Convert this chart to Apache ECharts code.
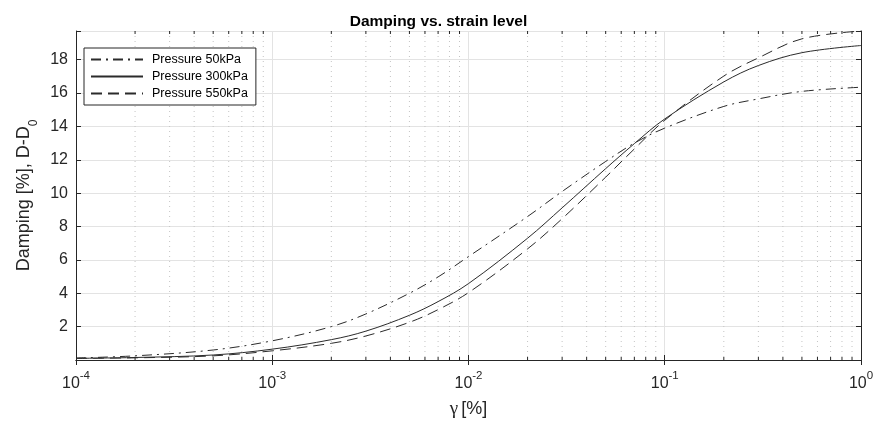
<!DOCTYPE html>
<html>
<head>
<meta charset="utf-8">
<script src="https://cdn.jsdelivr.net/npm/echarts@6/dist/echarts.min.js"></script>
<style>html,body{margin:0;padding:0;background:#fff;}#c{width:877px;height:425px;}</style>
</head>
<body>
<div id="c"></div>
<script>
// strain values (gamma, %)
const gamma = [1e-4, 2e-4, 5e-4, 1e-3, 2e-3, 3e-3, 5e-3, 7e-3, 1e-2, 2e-2, 3e-2, 5e-2, 7e-2, 1e-1, 2e-1, 3e-1, 5e-1, 1];
// damping D-D0 (%)
const p50  = [0.12, 0.25, 0.6, 1.15, 2.0, 2.76, 4.0, 4.98, 6.2, 8.6, 10.1, 11.9, 13.0, 13.9, 15.2, 15.65, 16.1, 16.35];
const p300 = [0.1, 0.15, 0.3, 0.65, 1.22, 1.73, 2.68, 3.5, 4.58, 7.3, 9.12, 11.47, 12.97, 14.45, 16.67, 17.65, 18.42, 18.85];
const p550 = [0.1, 0.13, 0.25, 0.55, 1.0, 1.44, 2.26, 3.02, 4.04, 6.66, 8.47, 10.96, 12.65, 14.37, 17.02, 18.11, 19.25, 19.72];
const seriesNames = ['Pressure 50kPa', 'Pressure 300kPa', 'Pressure 550kPa'];
const xTickExponents = [-4, -3, -2, -1, 0];
const yTicks = [2, 4, 6, 8, 10, 12, 14, 16, 18];

// minor log ticks (2..9 x 10^k)
const minorTicks = [];
for (let k = -4; k < 0; k++) for (let m = 2; m <= 9; m++) minorTicks.push(m * Math.pow(10, k));

const pair = (ys) => gamma.map((g, i) => [g, ys[i]]);
const AX = '#262626';
const LC = '#2b2b2b';
const FONT = 'Liberation Sans, Arial, Helvetica, sans-serif';

const chart = echarts.init(document.getElementById('c'), null, {renderer: 'canvas'});
const lineSeries = (name, data, type) => ({
  name, type: 'line', data: pair(data), symbol: 'none', showSymbol: false, smooth: 0.35,
  color: LC,
  itemStyle: {color: LC},
  lineStyle: {color: LC, width: 1, type: type},
  z: 5
});

chart.setOption({
  animation: false,
  backgroundColor: '#fff',
  color: [LC, LC, LC, LC],
  title: {
    text: 'Damping vs. strain level', left: 'center', top: 9,
    textStyle: {fontFamily: FONT, fontSize: 15.5, fontWeight: 'bold', color: '#000'}
  },
  grid: {left: 76, right: 16, top: 31, bottom: 65},
  legend: {
    data: seriesNames, orient: 'vertical', left: 84, top: 48,
    itemWidth: 52, itemHeight: 12, itemGap: 4,
    padding: [5, 8, 5, 6],
    backgroundColor: '#fff', borderColor: AX, borderWidth: 1,
    textStyle: {fontFamily: FONT, fontSize: 12.5, color: '#000', padding: [0, 0, 0, 4]},
    itemStyle: {opacity: 0},
    lineStyle: {inherit: true}
  },
  xAxis: [{
    type: 'log', logBase: 10, min: 1e-4, max: 1,
    name: '{g|γ} {t|[%]}', nameLocation: 'middle', nameGap: 40,
    nameTextStyle: {rich: {
      g: {fontFamily: 'Liberation Serif, DejaVu Serif, serif', fontSize: 19, color: '#262626'},
      t: {fontFamily: FONT, fontSize: 18, color: '#262626'}
    }},
    axisLine: {show: true, lineStyle: {color: AX, width: 1}},
    axisTick: {show: true, inside: true, length: 5, lineStyle: {color: AX}},
    splitLine: {show: true, lineStyle: {color: '#e3e3e3', width: 1}},
    axisLabel: {
      margin: 10,
      formatter: (v) => {
        const e = Math.round(Math.log10(v));
        return xTickExponents.indexOf(e) >= 0 ? '{b|10}{s|' + e + '}' : '';
      },
      rich: {
        b: {fontFamily: FONT, fontSize: 16, color: '#262626', verticalAlign: 'bottom', lineHeight: 22},
        s: {fontFamily: FONT, fontSize: 11.5, color: '#262626', verticalAlign: 'top', lineHeight: 22}
      }
    }
  }, {
    type: 'log', logBase: 10, min: 1e-4, max: 1, position: 'top',
    axisLine: {show: true, lineStyle: {color: AX, width: 1}},
    axisTick: {show: true, inside: true, length: 5, lineStyle: {color: AX}},
    axisLabel: {show: false}, splitLine: {show: false}
  }],
  yAxis: [{
    type: 'value', min: 0, max: 19.72, interval: 2,
    name: '{t|Damping [%], D-D}{s|0}', nameLocation: 'middle', nameGap: 36, nameRotate: 90,
    nameTextStyle: {rich: {
      t: {fontFamily: FONT, fontSize: 18, color: '#262626', verticalAlign: 'top', lineHeight: 24},
      s: {fontFamily: FONT, fontSize: 12, color: '#262626', verticalAlign: 'bottom', lineHeight: 24}
    }},
    axisLine: {show: true, lineStyle: {color: AX, width: 1}},
    axisTick: {show: true, inside: true, length: 5, lineStyle: {color: AX}},
    splitLine: {show: true, lineStyle: {color: '#e3e3e3', width: 1}},
    axisLabel: {
      fontFamily: FONT, fontSize: 16, color: '#262626', margin: 8,
      formatter: (v) => yTicks.indexOf(v) >= 0 ? String(v) : ''
    }
  }, {
    type: 'value', min: 0, max: 19.72, interval: 2, position: 'right',
    axisLine: {show: true, lineStyle: {color: AX, width: 1}},
    axisTick: {show: true, inside: true, length: 5, lineStyle: {color: AX}},
    axisLabel: {show: false}, splitLine: {show: false}
  }],
  series: [
    {
      type: 'custom', name: 'minor', silent: true, z: 1,
      data: minorTicks.map(v => [v]),
      encode: {x: 0},
      renderItem: (params, api) => {
        const v = api.value(0);
        const x = api.coord([v, 0])[0];
        const cs = params.coordSys;
        const top = cs.y, bot = cs.y + cs.height;
        return {type: 'group', children: [
          {type: 'line', shape: {x1: x, y1: top, x2: x, y2: bot},
           style: {stroke: '#c4c4c4', lineWidth: 1, lineDash: [1, 4]}},
          {type: 'line', shape: {x1: x, y1: bot, x2: x, y2: bot - 3},
           style: {stroke: AX, lineWidth: 1}},
          {type: 'line', shape: {x1: x, y1: top, x2: x, y2: top + 3},
           style: {stroke: AX, lineWidth: 1}}
        ]};
      }
    },
    lineSeries(seriesNames[0], p50, [10, 5, 2, 5]),
    lineSeries(seriesNames[1], p300, 'solid'),
    lineSeries(seriesNames[2], p550, [11, 6])
  ]
});
</script>
</body>
</html>
